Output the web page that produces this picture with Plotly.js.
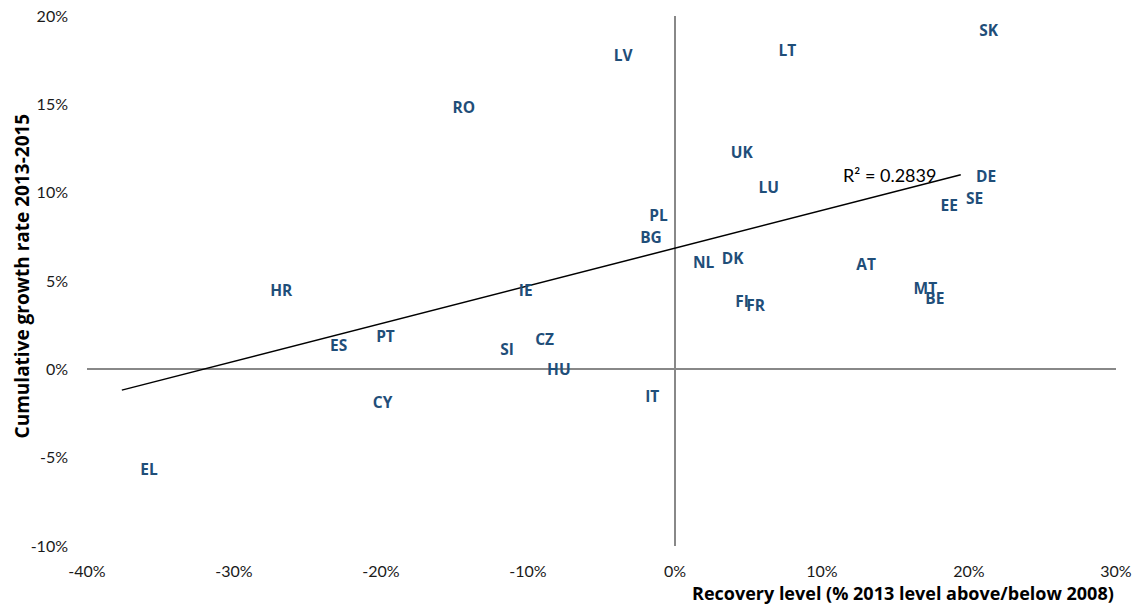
<!DOCTYPE html>
<html><head><meta charset="utf-8">
<script src="https://cdn.plot.ly/plotly-3.0.1.min.js"></script>
<style>html,body{margin:0;padding:0;background:#fff}#chart{width:1141px;height:607px}</style>
</head><body><div id="chart"></div>
<script>
const countries = ['SK','LT','LV','RO','UK','LU','DE','SE','EE','PL','BG','NL','DK','AT','HR','IE','MT','BE','FI','FR','CZ','PT','ES','SI','HU','IT','CY','EL'];
const recoveryLevel = [19.44,5.78,-5.42,-16.40,2.54,4.42,19.22,18.54,16.81,-3.01,-3.63,-0.04,1.93,11.07,-28.80,-11.88,14.97,15.77,2.84,3.59,-10.77,-21.59,-24.72,-13.15,-9.96,-3.29,-21.82,-37.63];
const growthRate = [19.08,17.98,17.66,14.72,12.17,10.22,10.81,9.56,9.17,8.64,7.36,5.94,6.17,5.86,4.35,4.39,4.48,3.92,3.77,3.54,1.61,1.78,1.24,1.05,-0.08,-1.65,-1.99,-5.76];
const xTickVals = [-40,-30,-20,-10,0,10,20,30];
const xTickText = ['-40%','-30%','-20%','-10%','0%','10%','20%','30%'];
const yTickVals = [-10,-5,0,5,10,15,20];
const yTickText = ['-10%','-5%','0%','5%','10%','15%','20%'];
const rSquaredLabel = 'R² = 0.2839';
const xTitle = 'Recovery level (% 2013 level above/below 2008)';
const yTitle = 'Cumulative growth rate 2013-2015';

// Linear trendline (least squares) over the data, from min x to max x
const n = recoveryLevel.length;
const mx = recoveryLevel.reduce((a,b)=>a+b,0)/n;
const my = growthRate.reduce((a,b)=>a+b,0)/n;
let sxy = 0, sxx = 0;
for (let i=0;i<n;i++){ sxy += (recoveryLevel[i]-mx)*(growthRate[i]-my); sxx += (recoveryLevel[i]-mx)**2; }
const slope = sxy/sxx, intercept = my - slope*mx;
const trendX = [Math.min(...recoveryLevel), Math.max(...recoveryLevel)];
const trendY = trendX.map(x => intercept + slope*x);

const TICKFONT = 'Lato, "Open Sans", sans-serif';
const BOLDFONT = '"Open Sans", "Noto Sans", sans-serif';
const data = [
  {type:'scatter', mode:'lines', x:trendX, y:trendY, line:{color:'#000000', width:1.5}, hoverinfo:'skip', showlegend:false},
  {type:'scatter', mode:'markers+text', x:recoveryLevel, y:growthRate, text:countries,
   textposition:'middle right', marker:{size:28, color:'rgba(0,0,0,0)'},
   textfont:{family:BOLDFONT, size:15.5, color:'#1F4E79', weight:'bold'}, showlegend:false}
];
const layout = {
  width:1141, height:607,
  margin:{l:87, r:25, t:16, b:61},
  paper_bgcolor:'#ffffff', plot_bgcolor:'#ffffff',
  font:{family:TICKFONT, color:'#1a1a1a'},
  showlegend:false,
  xaxis:{range:[-40,30], tickvals:xTickVals, ticktext:xTickText, showgrid:false, showline:false, ticks:'',
         zeroline:true, zerolinecolor:'#888888', zerolinewidth:2, tickfont:{family:TICKFONT, size:16, color:'#1a1a1a'},
         ticklabelstandoff:14, fixedrange:true},
  yaxis:{range:[-10,20], tickvals:yTickVals, ticktext:yTickText, showgrid:false, showline:false, ticks:'',
         zeroline:true, zerolinecolor:'#888888', zerolinewidth:2, tickfont:{family:TICKFONT, size:16, color:'#1a1a1a'},
         ticklabelstandoff:18, fixedrange:true},
  annotations:[
    {xref:'x', yref:'y', x:14.6, y:11.0, text:rSquaredLabel, showarrow:false, font:{family:TICKFONT, size:18, color:'#000000'}, xanchor:'center', yanchor:'middle'},
    {xref:'paper', yref:'paper', x:1.0, y:-0.089, text:xTitle, showarrow:false, xanchor:'right', yanchor:'middle',
     font:{family:BOLDFONT, size:18, color:'#000000', weight:'bold'}},
    {xref:'paper', yref:'paper', x:-0.063, y:0.509, text:yTitle, showarrow:false, textangle:-90, xanchor:'center', yanchor:'middle',
     font:{family:BOLDFONT, size:19, color:'#000000', weight:'bold'}}
  ]
};
Plotly.newPlot('chart', data, layout, {displayModeBar:false, staticPlot:true});
</script>
</body></html>
